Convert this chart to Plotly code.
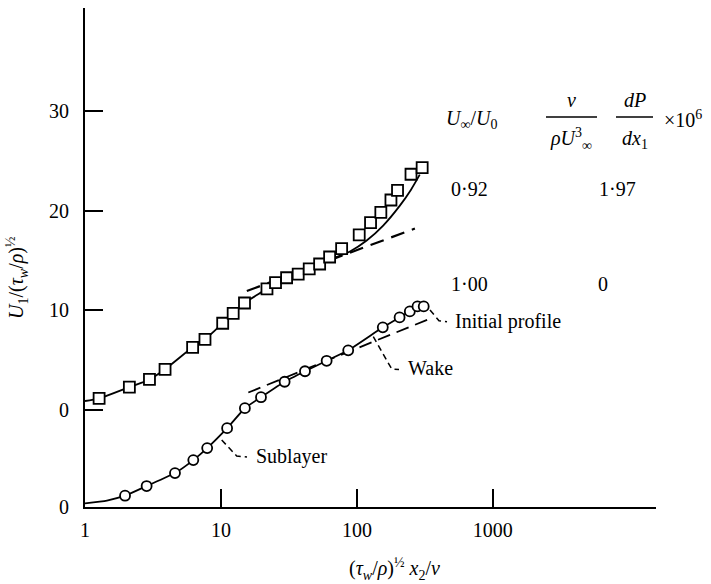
import plotly.graph_objects as go

# ---------------- data ----------------
# lower profile: U_inf/U0 = 1.00, dP/dx = 0  (circles)
lower_x = [1.97, 2.84, 4.59, 6.26, 7.92, 11.1, 15.0, 19.7, 29.4, 41.5, 59.9, 86.3,
           155, 206, 245, 279, 310]
lower_y = [1.13, 2.1, 3.4, 4.7, 5.9, 7.9, 9.9, 11.0, 12.55, 13.6, 14.65, 15.7,
           18.0, 19.0, 19.6, 20.1, 20.1]
lower_curve_x = [1.0, 1.45, 1.97, 2.84, 4.59, 6.26, 7.92, 11.1, 15.0, 19.7, 29.4, 41.5,
                 59.9, 86.3, 155, 206, 245, 279, 310]
lower_curve_y = [0.37, 0.65, 1.13, 2.1, 3.4, 4.7, 5.9, 7.9, 9.9, 11.0, 12.55, 13.6,
                 14.65, 15.7, 18.0, 19.0, 19.6, 20.1, 20.1]
lower_log_x = [15.9, 362]
lower_log_y = [11.47, 18.99]

# upper profile: U_inf/U0 = 0.92, dP/dx = 1.97e-6 (squares), plotted shifted upward
upper_x = [1.27, 2.12, 2.98, 3.88, 6.19, 7.63, 10.3, 12.3, 14.9, 21.8, 25.2, 30.4,
           37.0, 44.6, 53.2, 63.0, 77.2, 104, 126, 150, 178, 199, 250, 302]
upper_y = [1.19, 2.32, 3.08, 4.10, 6.30, 7.10, 8.71, 9.71, 10.74, 12.16, 12.78, 13.27,
           13.63, 14.17, 14.65, 15.35, 16.18, 17.56, 18.79, 19.83, 21.06, 22.03, 23.64, 24.30]
upper_curve_x = [1.0, 1.27, 2.12, 2.98, 3.88, 6.19, 7.63, 10.3, 12.3, 14.9, 21.8, 25.2,
                 30.4, 37.0, 44.6, 53.2, 63.3, 77.2, 88.9, 118, 156, 207, 250, 290]
upper_curve_y = [0.92, 1.19, 2.32, 3.08, 4.10, 6.30, 7.10, 8.71, 9.71, 10.74, 12.16, 12.78,
                 13.27, 13.63, 14.17, 14.65, 15.1, 15.55, 15.9, 17.0, 18.5, 20.5, 22.1, 23.6]
upper_log_x = [15.5, 267]
upper_log_y = [11.94, 18.2]
UPPER_SHIFT = 9.7

x_tick_vals = [1, 10, 100, 1000]
x_tick_text = ["1", "10", "100", "1000"]
y_tick_text = ["0", "0", "10", "20", "30"]
upper_tick_vals = [0, 10, 20, 30]

ratio_text = ["0·92", "1·00"]
dp_text = ["1·97", "0"]

# ---------------- layout helpers (pixel -> paper) ----------------
W, H = 711, 584
L, R, T, B = 85, 55, 8, 77
PW, PH = W - L - R, H - T - B


def px(x):
    return (x - L) / PW


def py(y):
    return (H - B - y) / PH


FONT = "Liberation Serif, Times New Roman, serif"
BLACK = "black"

fig = go.Figure()

# lower profile
fig.add_trace(go.Scatter(x=lower_curve_x, y=lower_curve_y, mode="lines",
                         line=dict(color=BLACK, width=1.8, shape="spline", smoothing=0.5),
                         hoverinfo="skip", showlegend=False))
fig.add_trace(go.Scatter(x=lower_log_x, y=lower_log_y, mode="lines",
                         line=dict(color=BLACK, width=1.8, dash="13px,7px"),
                         showlegend=False))
fig.add_trace(go.Scatter(x=lower_x, y=lower_y, mode="markers",
                         marker=dict(symbol="circle", size=10, color="white",
                                     line=dict(color=BLACK, width=1.8)),
                         showlegend=False))

# upper profile (shifted)
fig.add_trace(go.Scatter(x=upper_curve_x, y=[v + UPPER_SHIFT for v in upper_curve_y],
                         mode="lines",
                         line=dict(color=BLACK, width=1.8, shape="spline", smoothing=0.8),
                         showlegend=False))
fig.add_trace(go.Scatter(x=upper_log_x, y=[v + UPPER_SHIFT for v in upper_log_y],
                         mode="lines",
                         line=dict(color=BLACK, width=2.2, dash="14px,8px"),
                         showlegend=False))
fig.add_trace(go.Scatter(x=upper_x, y=[v + UPPER_SHIFT for v in upper_y], mode="markers",
                         marker=dict(symbol="square", size=11, color="white",
                                     line=dict(color=BLACK, width=1.8)),
                         showlegend=False))

y_tick_vals = [0] + [v + UPPER_SHIFT for v in upper_tick_vals]

fig.update_layout(
    width=W, height=H,
    margin=dict(l=L, r=R, t=T, b=B),
    paper_bgcolor="white", plot_bgcolor="white",
    font=dict(family=FONT, size=20, color=BLACK),
    showlegend=False,
    xaxis=dict(type="log", range=[0, 4.2], tickvals=x_tick_vals, ticktext=x_tick_text,
               ticks="inside", ticklen=18, tickwidth=1.5, tickcolor=BLACK,
               showline=True, linewidth=2, linecolor=BLACK, showgrid=False,
               zeroline=False, ticklabelstandoff=4),
    yaxis=dict(range=[0, 50], tickvals=y_tick_vals, ticktext=y_tick_text,
               ticks="inside", ticklen=18, tickwidth=1.5, tickcolor=BLACK,
               showline=True, linewidth=2, linecolor=BLACK, showgrid=False,
               zeroline=False, ticklabelstandoff=10),
)

ann = []
# axis titles
ann.append(dict(xref="paper", yref="paper", x=px(17), y=py(278), textangle=-90,
                text="<i>U</i><sub>1</sub>/(<i>τ</i><sub><i>w</i></sub>/<i>ρ</i>)<sup>½</sup>",
                showarrow=False, xanchor="center", yanchor="middle"))
ann.append(dict(xref="paper", yref="paper", x=px(394), y=py(569),
                text="(<i>τ</i><sub><i>w</i></sub>/<i>ρ</i>)<sup>½</sup> <i>x</i><sub>2</sub>/<i>ν</i>",
                showarrow=False, xanchor="center", yanchor="middle"))

# header
ann.append(dict(xref="paper", yref="paper", x=px(471), y=py(119),
                text="<i>U</i><sub>∞</sub>/<i>U</i><sub>0</sub>",
                showarrow=False, xanchor="center", yanchor="middle"))
ann.append(dict(xref="paper", yref="paper", x=px(571), y=py(100), text="<i>ν</i>",
                showarrow=False, xanchor="center", yanchor="middle"))
ann.append(dict(xref="paper", yref="paper", x=px(571), y=py(139),
                text="<i>ρU</i><sup>3</sup><sub>∞</sub>",
                showarrow=False, xanchor="center", yanchor="middle"))
ann.append(dict(xref="paper", yref="paper", x=px(635), y=py(100), text="<i>dP</i>",
                showarrow=False, xanchor="center", yanchor="middle"))
ann.append(dict(xref="paper", yref="paper", x=px(635), y=py(139),
                text="<i>dx</i><sub>1</sub>",
                showarrow=False, xanchor="center", yanchor="middle"))
ann.append(dict(xref="paper", yref="paper", x=px(683), y=py(119),
                text="×10<sup>6</sup>",
                showarrow=False, xanchor="center", yanchor="middle"))

# table values
for txt, ypix in zip(ratio_text, [189, 284]):
    ann.append(dict(xref="paper", yref="paper", x=px(469), y=py(ypix), text=txt,
                    showarrow=False, xanchor="center", yanchor="middle"))
for txt, xpix, ypix in zip(dp_text, [617, 603], [189, 284]):
    ann.append(dict(xref="paper", yref="paper", x=px(xpix), y=py(ypix), text=txt,
                    showarrow=False, xanchor="center", yanchor="middle"))

# labels with leaders
labels = [("Sublayer", 254, 456), ("Wake", 406, 368), ("Initial profile", 453, 321)]
for txt, xpix, ypix in labels:
    ann.append(dict(xref="paper", yref="paper", x=px(xpix), y=py(ypix), text=txt,
                    showarrow=False, xanchor="left", yanchor="middle"))
fig.update_layout(annotations=ann)

shapes = []
# fraction bars
for x0, x1 in [(546, 597), (616, 653)]:
    shapes.append(dict(type="line", xref="paper", yref="paper",
                       x0=px(x0), x1=px(x1), y0=py(117), y1=py(117),
                       line=dict(color=BLACK, width=1.5)))
leaders = [
    [(221.7, 440), (236.7, 456), (247, 457)],
    [(373.3, 336.7), (391.7, 369), (399, 369.5)],
    [(430, 310), (439, 320.7), (447, 321.7)],
]
for pts in leaders:
    path = "M " + " L ".join(f"{px(a):.5f},{py(b):.5f}" for a, b in pts)
    shapes.append(dict(type="path", xref="paper", yref="paper", path=path,
                       line=dict(color=BLACK, width=1.5, dash="6px,4px")))
fig.update_layout(shapes=shapes)

fig.write_html("out.html")
